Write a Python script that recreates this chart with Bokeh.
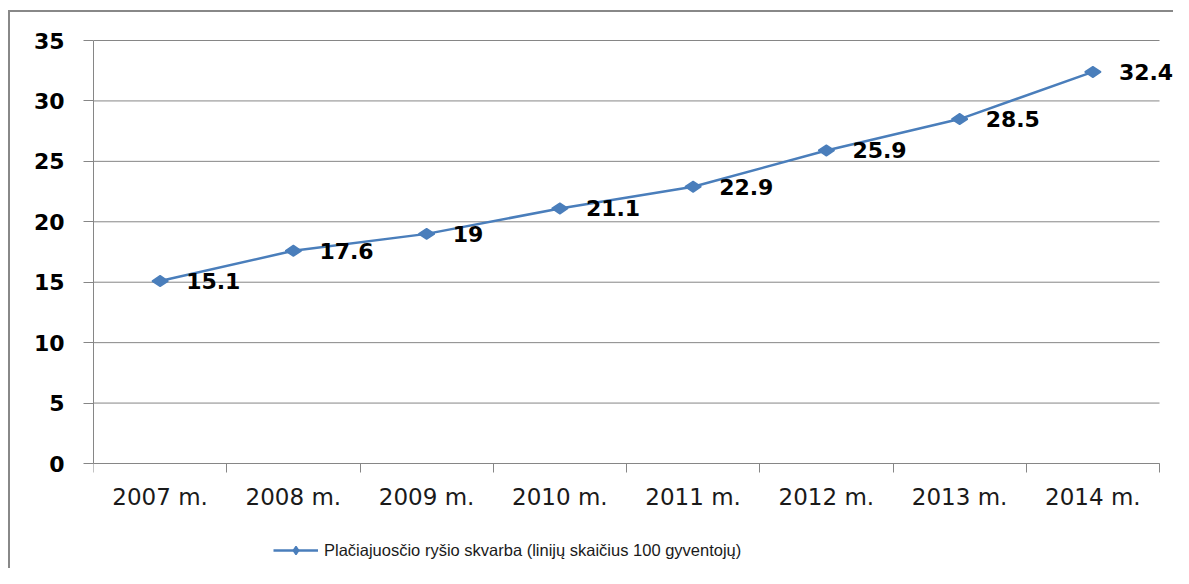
import math
from bokeh.plotting import figure
from bokeh.models import (FixedTicker, Legend, LegendItem, ColumnDataSource,
                          Range1d, LabelSet)
from bokeh.core.properties import value
from bokeh.embed import file_html
from bokeh.resources import INLINE

years = ["2007 m.", "2008 m.", "2009 m.", "2010 m.", "2011 m.", "2012 m.", "2013 m.", "2014 m."]
values = [15.1, 17.6, 19, 21.1, 22.9, 25.9, 28.5, 32.4]
value_labels = ["15.1", "17.6", "19", "21.1", "22.9", "25.9", "28.5", "32.4"]
y_ticks = [0, 5, 10, 15, 20, 25, 30, 35]
series_name = "Plačiajuosčio ryšio skvarba (linijų skaičius 100 gyventojų)"

n = len(years)
xs = [i + 0.5 for i in range(n)]
src = ColumnDataSource(dict(x=xs, y=values, lab=value_labels))
grid_src = ColumnDataSource(dict(y=y_ticks, x0=[0] * len(y_ticks), x1=[n] * len(y_ticks)))

GRID = "#868686"
BLUE = "#4A7EBB"

W, H = 1173, 568
LEFT, TOP = 93, 30
AXIS_Y = 463           # pixel row of value 0
frame_w = W - LEFT
plot_w = 1066          # pixels used by the 8 categories
ppu = 423 / 35         # pixels per unit on y

p = figure(width=W, height=H,
           x_range=Range1d(0, n * frame_w / plot_w),
           y_range=Range1d(-(H - AXIS_Y) / ppu, 35 + (AXIS_Y - 423 - TOP) / ppu),
           output_backend="svg", toolbar_location=None,
           min_border_left=LEFT, min_border_right=0, min_border_top=TOP, min_border_bottom=0)
p.border_fill_color = None
p.background_fill_color = "white"
p.outline_line_color = None
p.styles = {"box-shadow": "inset 8px 10px 0 0 #ffffff, inset 10px 12px 0 0 #888888"}

# y axis
p.yaxis.ticker = FixedTicker(ticks=y_ticks)
p.yaxis.bounds = (0, 35)
p.yaxis.axis_line_color = GRID
p.yaxis.major_tick_line_color = GRID
p.yaxis.major_tick_out = 10
p.yaxis.major_tick_in = 0
p.yaxis.minor_tick_line_color = None
p.yaxis.major_label_standoff = 19
p.yaxis.major_label_text_font = "DejaVu Sans"
p.yaxis.major_label_text_font_style = "bold"
p.yaxis.major_label_text_font_size = "22px"
p.yaxis.major_label_text_color = "#000000"

# x axis (drawn at value 0 inside the frame)
p.xaxis.fixed_location = 0
p.xaxis.ticker = FixedTicker(ticks=xs, minor_ticks=list(range(n + 1)))
p.xaxis.bounds = (0, n)
p.xaxis.major_label_overrides = {x: lab for x, lab in zip(xs, years)}
p.xaxis.axis_line_color = GRID
p.xaxis.major_tick_line_color = None
p.xaxis.major_tick_out = 0
p.xaxis.major_tick_in = 0
p.xaxis.minor_tick_line_color = GRID
p.xaxis.minor_tick_out = 9
p.xaxis.minor_tick_in = 0
p.xaxis.major_label_standoff = 11
p.xaxis.major_label_text_font = "DejaVu Sans"
p.xaxis.major_label_text_font_size = "23px"
p.xaxis.major_label_text_color = "#1a1a1a"

p.xgrid.grid_line_color = None
p.ygrid.grid_line_color = None
p.segment(x0="x0", x1="x1", y0="y", y1="y", source=grid_src, line_color=GRID, line_width=1)

line_r = p.line("x", "y", source=src, line_color=BLUE, line_width=2.5)
mark_r = p.scatter("x", "y", source=src, marker="diamond", angle=math.pi / 2, size=16,
                   fill_color=BLUE, line_color=BLUE, line_width=1.5)

labels = LabelSet(x="x", y="y", text="lab", source=src, x_offset=26, y_offset=0,
                  text_baseline="middle", text_align="left",
                  text_font=value("DejaVu Sans"), text_font_style="bold",
                  text_font_size="22px", text_color="#000000")
p.add_layout(labels)

legend = Legend(items=[LegendItem(label=series_name, renderers=[line_r, mark_r])],
                location=(180, 8), orientation="horizontal",
                glyph_width=45, glyph_height=20, label_standoff=6,
                label_text_font="Liberation Sans", label_text_font_size="16.5px",
                label_text_color="#1a1a1a", border_line_color=None,
                background_fill_alpha=0, padding=0, margin=0, spacing=0)
p.add_layout(legend, "center")

open("out.html", "w").write(file_html(p, INLINE))
